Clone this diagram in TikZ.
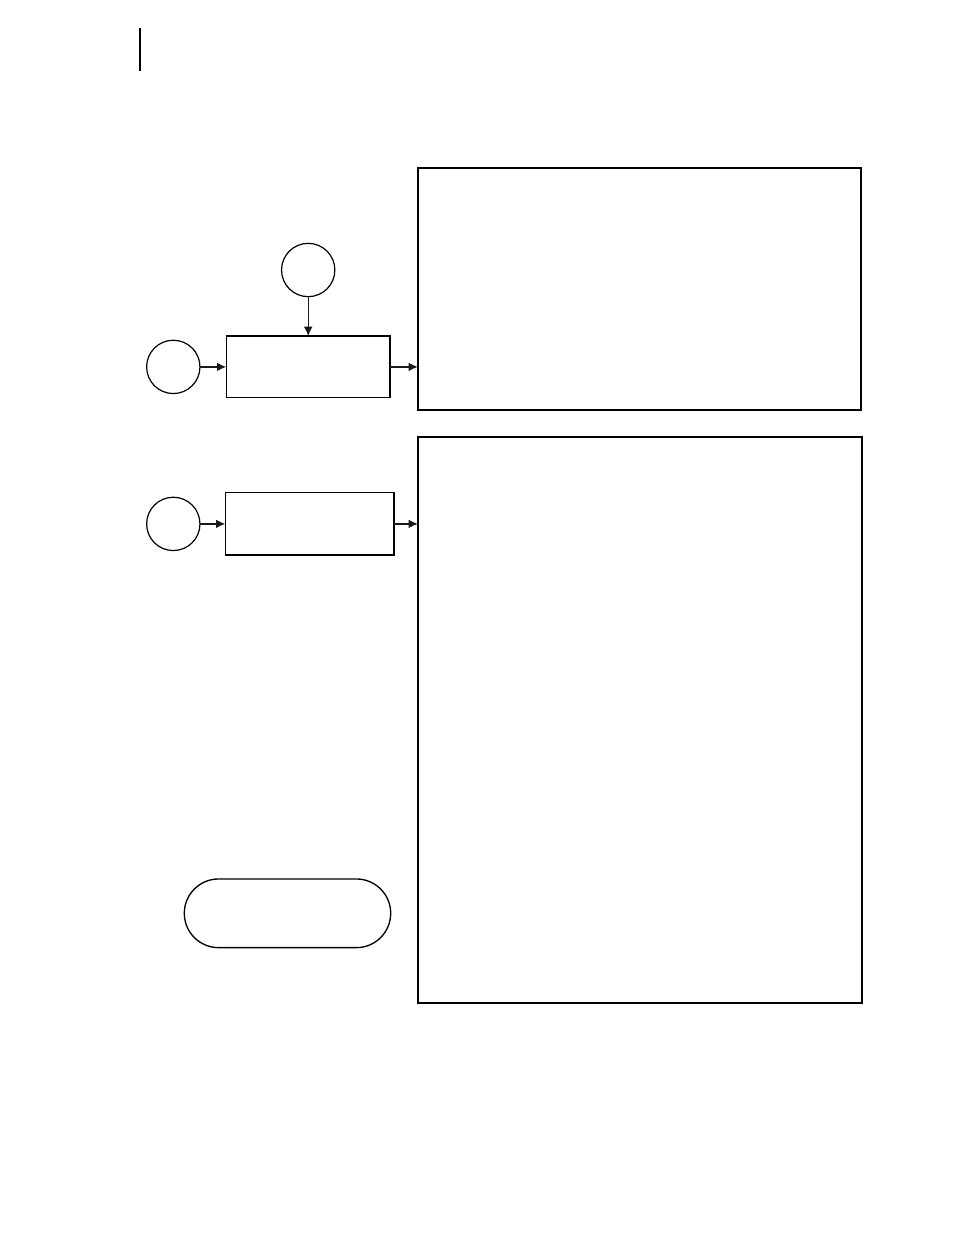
\documentclass[tikz,border=0pt]{standalone}
\usetikzlibrary{arrows.meta,shapes.misc}
\begin{document}
\begin{tikzpicture}[x=0.75pt,y=-0.75pt,
  circ/.style={circle,draw,line width=0.9pt,minimum size=40pt,inner sep=0pt,outer sep=0pt},
  procbox/.style={rectangle,draw,line width=0.9pt,inner sep=0pt,outer sep=0pt},
  bigbox/.style={rectangle,draw,line width=1.4pt,inner sep=0pt,outer sep=0pt},
  term/.style={rounded rectangle,draw,line width=1pt,inner sep=0pt,outer sep=0pt,minimum width=154.8pt,minimum height=51.5pt},
  arr/.style={-{Latex[length=7pt,width=6.5pt]},line width=1.1pt,black!90}]
\useasboundingbox (0,0) rectangle (954,1235);
\fill[white] (0,0) rectangle (954,1235);
\coordinate (lt) at (140.3,28);
\coordinate (lb) at (140.3,71);
\draw[line width=1.3pt] (lt) -- (lb);

\node[circ] (ctop) at (308.2,270) {};
\node[circ] (c1) at (173.3,366.9) {};
\node[procbox,minimum width=122.8pt,minimum height=46.3pt] (b1) at (308.2,366.9) {};
\node[bigbox,minimum width=332.3pt,minimum height=181.5pt] (B1) at (639.5,289) {};

\node[circ] (c2) at (173.3,523.9) {};
\node[procbox,minimum width=126.5pt,minimum height=46.7pt] (b2) at (309.7,523.9) {};
\node[bigbox,minimum width=333pt,minimum height=424.5pt] (B2) at (640,720) {};

\node[term] (t) at (287.5,913.3) {};

\draw[arr,line width=0.8pt] (ctop) -- (b1);
\draw[arr] (c1) -- (b1);
\draw[arr] (b1.east) -- (B1.west |- b1.east);
\draw[arr] (c2) -- (b2);
\draw[arr] (b2.east) -- (B2.west |- b2.east);
\end{tikzpicture}
\end{document}
